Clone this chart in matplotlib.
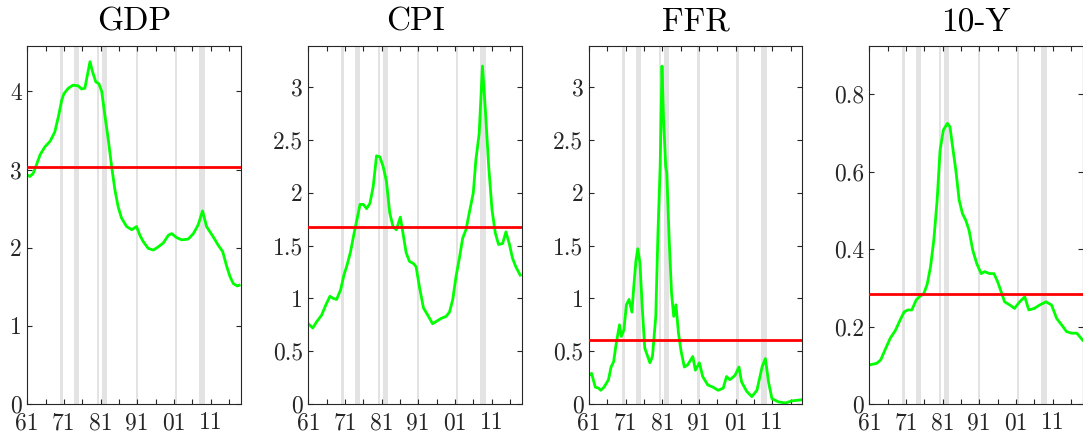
import matplotlib
matplotlib.use("Agg")
import matplotlib.pyplot as plt
import numpy as np

plt.rcParams['font.family'] = 'serif'
plt.rcParams['font.serif'] = ['cmr10', 'DejaVu Serif']
plt.rcParams['axes.formatter.use_mathtext'] = True

titles = ["GDP", "CPI", "FFR", "10-Y"]

gdp_x = [1961.0, 1961.7, 1962.6, 1963.5, 1964.5, 1965.8, 1967.2, 1968.5, 1969.5, 1970.4, 1971.0,
         1972.2, 1973.5, 1974.9, 1975.8, 1976.7, 1977.4, 1978.1, 1978.8, 1979.7, 1980.5, 1981.3,
         1982.2, 1983.1, 1984.0, 1984.9, 1985.8, 1986.7, 1988.1, 1989.5, 1990.8, 1991.7, 1992.6,
         1994.0, 1995.4, 1996.7, 1998.1, 1999.5, 2000.4, 2001.7, 2003.1, 2004.9, 2006.3, 2007.6,
         2008.8, 2009.9, 2011.7, 2013.1, 2014.3, 2015.4, 2016.3, 2017.2, 2018.3, 2018.8]
gdp_y = [2.93, 2.91, 2.95, 3.06, 3.19, 3.29, 3.36, 3.48, 3.68, 3.89, 3.97,
         4.04, 4.08, 4.07, 4.03, 4.04, 4.21, 4.38, 4.25, 4.12, 4.10, 4.00,
         3.68, 3.38, 3.04, 2.74, 2.52, 2.38, 2.27, 2.23, 2.27, 2.16, 2.08,
         1.99, 1.97, 2.01, 2.06, 2.16, 2.18, 2.13, 2.10, 2.11, 2.18, 2.29,
         2.47, 2.27, 2.14, 2.03, 1.95, 1.76, 1.63, 1.54, 1.51, 1.52]

cpi_x = [1961.0, 1962.2, 1963.3, 1964.6, 1965.8, 1966.9, 1967.8, 1968.7, 1969.8, 1970.7, 1971.6,
         1972.5, 1973.5, 1974.4, 1975.1, 1976.0, 1976.9, 1977.8, 1978.7, 1979.6, 1980.5, 1981.4,
         1982.3, 1983.2, 1984.1, 1985.0, 1986.1, 1986.8, 1987.7, 1988.6, 1989.7, 1990.4, 1991.3,
         1992.4, 1993.6, 1994.9, 1995.8, 1997.2, 1998.6, 1999.5, 2000.4, 2001.3, 2002.2, 2003.1,
         2004.0, 2004.9, 2006.0, 2006.7, 2007.6, 2008.5, 2009.3, 2010.2, 2011.1, 2012.0, 2012.9,
         2014.0, 2014.9, 2015.8, 2016.7, 2017.6, 2018.8]
cpi_y = [0.76, 0.72, 0.78, 0.84, 0.94, 1.02, 1.00, 0.99, 1.08, 1.22, 1.32,
         1.44, 1.62, 1.77, 1.89, 1.89, 1.85, 1.90, 2.06, 2.35, 2.34, 2.25,
         2.11, 1.81, 1.68, 1.65, 1.77, 1.62, 1.43, 1.35, 1.33, 1.30, 1.11,
         0.91, 0.84, 0.76, 0.78, 0.81, 0.83, 0.87, 0.99, 1.21, 1.38, 1.57,
         1.65, 1.81, 2.00, 2.31, 2.56, 3.20, 2.78, 2.25, 1.84, 1.62, 1.51,
         1.52, 1.63, 1.52, 1.38, 1.30, 1.22]

ffr_x = [1961.0, 1961.7, 1962.7, 1963.6, 1964.2, 1965.1, 1966.3, 1967.0, 1967.7, 1968.4, 1969.3,
         1969.8, 1970.5, 1971.2, 1971.9, 1972.7, 1973.2, 1973.8, 1974.3, 1974.9, 1975.5, 1976.2,
         1976.9, 1977.6, 1978.3, 1979.2, 1979.8, 1980.4, 1980.9, 1981.3, 1981.9, 1982.2, 1982.9,
         1983.5, 1984.1, 1984.7, 1985.4, 1986.1, 1987.0, 1987.9, 1989.3, 1990.0, 1991.1, 1992.0,
         1993.4, 1994.8, 1996.2, 1997.6, 1998.5, 1999.4, 2000.8, 2001.9, 2002.6, 2004.0, 2005.4,
         2006.8, 2008.2, 2009.1, 2010.0, 2010.9, 2012.7, 2014.6, 2016.4, 2019.0]
ffr_y = [0.27, 0.29, 0.16, 0.15, 0.13, 0.16, 0.23, 0.35, 0.40, 0.57, 0.75,
         0.64, 0.70, 0.94, 0.99, 0.87, 1.11, 1.36, 1.47, 1.33, 0.92, 0.53,
         0.46, 0.39, 0.45, 0.83, 1.62, 2.25, 3.20, 2.72, 2.25, 2.19, 1.52,
         1.05, 0.83, 0.94, 0.67, 0.50, 0.35, 0.37, 0.45, 0.32, 0.39, 0.26,
         0.18, 0.16, 0.13, 0.15, 0.26, 0.23, 0.27, 0.35, 0.21, 0.12, 0.07,
         0.13, 0.35, 0.43, 0.20, 0.05, 0.02, 0.01, 0.03, 0.04]

ty_x = [1961.0, 1963.0, 1964.1, 1965.3, 1966.7, 1968.1, 1969.4, 1970.5, 1971.5, 1972.6, 1973.8,
        1974.9, 1975.9, 1976.8, 1977.7, 1978.6, 1979.5, 1980.3, 1981.2, 1982.3, 1983.0, 1983.6,
        1984.6, 1985.5, 1986.4, 1987.3, 1988.2, 1989.2, 1990.3, 1991.5, 1992.4, 1993.8, 1995.0,
        1996.0, 1997.1, 1997.9, 1999.3, 2000.6, 2002.0, 2003.4, 2004.5, 2006.0, 2007.5, 2009.2,
        2010.7, 2012.1, 2013.5, 2014.8, 2016.2, 2017.6, 2019.2]
ty_y = [0.101, 0.105, 0.114, 0.140, 0.170, 0.190, 0.217, 0.238, 0.243, 0.243, 0.269,
        0.279, 0.286, 0.310, 0.355, 0.424, 0.527, 0.656, 0.708, 0.725, 0.716, 0.673,
        0.604, 0.527, 0.492, 0.475, 0.449, 0.398, 0.363, 0.337, 0.342, 0.337, 0.337,
        0.316, 0.286, 0.264, 0.256, 0.247, 0.264, 0.277, 0.243, 0.247, 0.256, 0.264,
        0.256, 0.221, 0.204, 0.187, 0.183, 0.183, 0.165]

means = [3.03, 1.68, 0.61, 0.284]
ymax = [4.58, 3.39, 3.39, 0.925]
yticks = [[0, 1, 2, 3, 4],
          [0, 0.5, 1, 1.5, 2, 2.5, 3],
          [0, 0.5, 1, 1.5, 2, 2.5, 3],
          [0, 0.2, 0.4, 0.6, 0.8]]
ytick_labels = [["0", "1", "2", "3", "4"],
                ["0", "0.5", "1", "1.5", "2", "2.5", "3"],
                ["0", "0.5", "1", "1.5", "2", "2.5", "3"],
                ["0", "0.2", "0.4", "0.6", "0.8"]]
xticks = [1961, 1966, 1971, 1976, 1981, 1986, 1991, 1996, 2001, 2006, 2011, 2016]
xtick_labels = ["61", "", "71", "", "81", "", "91", "", "01", "", "11", ""]

recessions = [(1969.92, 1970.83), (1973.83, 1975.17), (1980.0, 1980.5), (1981.5, 1982.83),
              (1990.55, 1991.17), (2001.17, 2001.83), (2007.92, 2009.42)]

series_x = [gdp_x, cpi_x, ffr_x, ty_x]
series_y = [gdp_y, cpi_y, ffr_y, ty_y]

fig = plt.figure(figsize=(10.83, 4.32), dpi=100)
lefts = [0.0252, 0.2847, 0.5439, 0.8027]
w, b, h = 0.1970, 0.0648, 0.8287
spine_col = '#262626'
for i in range(4):
    ax = fig.add_axes([lefts[i], b, w, h])
    for (s, e) in recessions:
        ax.axvspan(s, e, color='#e3e3e3', lw=0, zorder=0)
    ax.plot(series_x[i], series_y[i], color='#00ff00', lw=2.0, zorder=2)
    ax.axhline(means[i], color='#ff0000', lw=2.0, zorder=3)
    ax.set_xlim(1961, 2019.2)
    ax.set_ylim(0, ymax[i])
    ax.set_xticks(xticks)
    ax.set_xticklabels(xtick_labels)
    ax.set_yticks(yticks[i])
    ax.set_yticklabels(ytick_labels[i])
    ax.tick_params(direction='in', top=True, right=True, length=3.5, width=0.8,
                   labelsize=17, colors=spine_col, labelcolor='#262626')
    ax.tick_params(axis='x', pad=6)
    ax.tick_params(axis='y', pad=4)
    for sp in ax.spines.values():
        sp.set_color(spine_col)
        sp.set_linewidth(0.8)
    ax.set_title(titles[i], fontsize=24, pad=11, color='black')

fig.savefig("out.png", dpi=100)
